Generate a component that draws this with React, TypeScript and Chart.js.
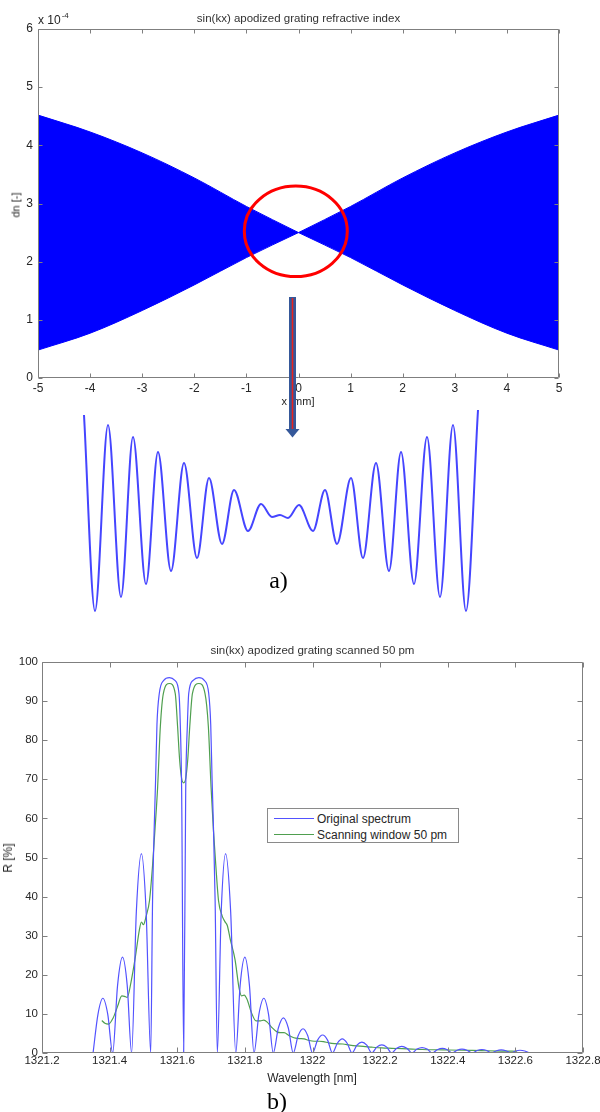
import React, { useEffect, useRef } from 'react';
import { Chart, registerables } from 'chart.js';

Chart.register(...registerables);

const FONT = '"Liberation Sans", Arial, Helvetica, sans-serif';
const SERIF = '"Liberation Serif", "Times New Roman", serif';
const TEXT = '#262626';
const AXIS = '#7f7f7f';

// ---------------- (a) top panel: refractive index envelope ----------------
const topTitle = 'sin(kx) apodized grating refractive index';
const topXLabel = 'x [mm]';
const topYLabel = 'dn [-]';
const topX = [-5, -4, -3, -2, -1, 0, 1, 2, 3, 4, 5];
const topUpper = [4.52, 4.23, 3.87, 3.44, 2.95, 2.5, 2.95, 3.44, 3.87, 4.23, 4.52];
const topLower = [0.48, 0.77, 1.16, 1.6, 2.07, 2.5, 2.07, 1.6, 1.16, 0.77, 0.48];
const topXTicks = [-5, -4, -3, -2, -1, 0, 1, 2, 3, 4, 5];
const topXTickLabels = ['-5', '-4', '-3', '-2', '-1', '0', '1', '2', '3', '4', '5'];
const topYTicks = [0, 1, 2, 3, 4, 5, 6];
const topYTickLabels = ['0', '1', '2', '3', '4', '5', '6'];

// zoomed detail of the centre (relative position / relative dn)
const zoomX = [-197, -186, -173, -160, -148, -135, -123, -110, -97, -84, -72, -59, -47, -33, -20, -9, -1, 7, 18, 32, 44, 56, 70, 82, 95, 108, 120, 133, 146, 159, 172, 185, 197];
const zoomDn = [101, -95, 91, -81, 79, -68, 64, -55, 53, -42, 38, -28, 26, -15, 12, -1, 1, -2, 11, -15, 26, -28, 38, -42, 53, -55, 64, -68, 79, -81, 91, -95, 106];

// ---------------- (b) bottom panel: spectrum ----------------
const botTitle = 'sin(kx) apodized grating scanned 50 pm';
const botXLabel = 'Wavelength [nm]';
const botYLabel = 'R [%]';
const seriesNames = ['Original spectrum', 'Scanning window 50 pm'];
const seriesColors = ['#5252ff', '#4f9f4f'];

const origWl = [
  1321.351, 1321.3655, 1321.380, 1321.3945, 1321.409, 1321.4235, 1321.438, 1321.452, 1321.465,
  1321.479, 1321.494, 1321.508, 1321.5215, 1321.527, 1321.532, 1321.536, 1321.540, 1321.547,
  1321.560, 1321.577, 1321.593, 1321.605, 1321.609, 1321.613, 1321.619, 1321.625, 1321.630,
  1321.634, 1321.647, 1321.664, 1321.680, 1321.693, 1321.699, 1321.703, 1321.707, 1321.712,
  1321.7185, 1321.730, 1321.743, 1321.758, 1321.773, 1321.786, 1321.800, 1321.8135, 1321.827,
  1321.8415, 1321.856, 1321.870, 1321.884, 1321.899, 1321.914, 1321.9285, 1321.943, 1321.9575,
  1321.972, 1321.986, 1322.000, 1322.015, 1322.030, 1322.0445, 1322.059, 1322.0735, 1322.088,
  1322.1025, 1322.117, 1322.1315, 1322.146, 1322.1605, 1322.175, 1322.190, 1322.205, 1322.2195,
  1322.234, 1322.249, 1322.264, 1322.279, 1322.294, 1322.309, 1322.324, 1322.339, 1322.354,
  1322.369, 1322.384, 1322.3985, 1322.413, 1322.4275, 1322.442, 1322.457, 1322.472, 1322.4865,
  1322.501, 1322.5155, 1322.530, 1322.544, 1322.558, 1322.5725, 1322.587, 1322.6005, 1322.614,
  1322.628, 1322.642,
];
const origR = [
  0, 9.9, 14.0, 9.9, 0, 17.3, 24.5, 17.3, 0,
  36.1, 51.0, 36.1, 0, 39, 58, 70, 84, 92,
  95.3, 96, 95.3, 92, 84, 67, 0, 67, 84,
  92, 95.3, 96, 95.3, 92, 84, 70, 58, 39,
  0, 36.1, 51.0, 36.1, 0, 17.3, 24.5, 17.3, 0,
  9.9, 14.0, 9.9, 0, 6.4, 9.0, 6.4, 0, 4.4,
  6.2, 4.4, 0, 3.3, 4.6, 3.3, 0, 2.5, 3.6,
  2.5, 0, 2.0, 2.8, 2.0, 0, 1.5, 2.1, 1.5,
  0, 1.2, 1.7, 1.2, 0, 1.0, 1.4, 1.0, 0,
  0.85, 1.2, 0.85, 0, 0.7, 1.0, 0.7, 0, 0.64,
  0.9, 0.64, 0, 0.57, 0.8, 0.57, 0, 0.5, 0.7,
  0.5, 0,
];

const scanWl = [
  1321.377, 1321.386, 1321.397, 1321.410, 1321.423, 1321.436, 1321.444, 1321.452, 1321.463,
  1321.476, 1321.488, 1321.494, 1321.500, 1321.508, 1321.518, 1321.527, 1321.534, 1321.542,
  1321.550, 1321.559, 1321.577, 1321.594, 1321.601, 1321.607, 1321.613, 1321.619, 1321.625,
  1321.631, 1321.637, 1321.645, 1321.664, 1321.682, 1321.692, 1321.700, 1321.707, 1321.714,
  1321.722, 1321.733, 1321.741, 1321.748, 1321.757, 1321.771, 1321.783, 1321.790, 1321.798,
  1321.806, 1321.820, 1321.833, 1321.846, 1321.856, 1321.866, 1321.880, 1321.895, 1321.906,
  1321.916, 1321.930, 1321.945, 1321.960, 1321.975, 1321.990, 1322.005, 1322.020, 1322.032,
  1322.048, 1322.065, 1322.090, 1322.110, 1322.130, 1322.150, 1322.175, 1322.205, 1322.235,
  1322.265, 1322.295, 1322.325, 1322.385, 1322.445, 1322.500, 1322.560, 1322.605,
];
const scanR = [
  8.3, 7.6, 7.4, 8.9, 11.8, 14.6, 14.5, 14.2, 18.0,
  24.5, 31.5, 33.5, 32.8, 35.0, 39.0, 48, 57, 68,
  83.5, 92, 94.5, 92, 83.5, 75, 70.2, 69.1, 70.2,
  75, 83.5, 92, 94.5, 92, 83.5, 68, 57, 48,
  39, 35.0, 33.6, 32.6, 29, 23.8, 16.5, 14.6, 14.8,
  13.8, 10.2, 8.2, 8.2, 8.4, 7.9, 6.5, 5.4, 5.2,
  5.2, 4.5, 3.9, 3.7, 3.6, 3.2, 3.0, 3.0, 2.9,
  2.6, 2.4, 2.3, 2.0, 1.8, 1.7, 1.5, 1.3, 1.2,
  1.1, 1.0, 0.9, 0.8, 0.7, 0.6, 0.5, 0.45,
];

const botXTicks = [1321.2, 1321.4, 1321.6, 1321.8, 1322, 1322.2, 1322.4, 1322.6, 1322.8];
const botXTickLabels = ['1321.2', '1321.4', '1321.6', '1321.8', '1322', '1322.2', '1322.4', '1322.6', '1322.8'];
const botYTicks = [0, 10, 20, 30, 40, 50, 60, 70, 80, 90, 100];
const botYTickLabels = ['0', '10', '20', '30', '40', '50', '60', '70', '80', '90', '100'];

// Matlab-like box with inward ticks on all sides
const boxPlugin = {
  id: 'matlabBox',
  afterDatasetsDraw(chart: any, _args: any, opts: any) {
    const { ctx, chartArea: a, scales } = chart;
    const L = opts.tickLen ?? 4;
    ctx.save();
    ctx.strokeStyle = AXIS;
    ctx.lineWidth = 1;
    ctx.beginPath();
    const l = Math.round(a.left) + 0.5;
    const r = Math.round(a.right) - 0.5;
    const t = Math.round(a.top) + 0.5;
    const b = Math.round(a.bottom) - 0.5;
    ctx.rect(l, t, r - l, b - t);
    for (const tk of scales.x.ticks) {
      const p = Math.round(scales.x.getPixelForValue(tk.value)) + 0.5;
      ctx.moveTo(p, b); ctx.lineTo(p, b - L);
      ctx.moveTo(p, t); ctx.lineTo(p, t + L);
    }
    for (const tk of scales.y.ticks) {
      const p = Math.round(scales.y.getPixelForValue(tk.value)) + 0.5;
      ctx.moveTo(l, p); ctx.lineTo(l + L, p);
      ctx.moveTo(r, p); ctx.lineTo(r - L, p);
    }
    ctx.stroke();
    ctx.restore();
  },
};

function pts(xs: number[], ys: number[]) {
  return xs.map((x, i) => ({ x, y: ys[i] }));
}

function useChart(ref: any, make: () => any) {
  useEffect(() => {
    const chart = new Chart(ref.current, make());
    return () => chart.destroy();
  }, []);
}

const bandStyle = { borderColor: '#0000ff', backgroundColor: '#0000ff', borderWidth: 1, pointRadius: 0, cubicInterpolationMode: 'monotone' };

function TopChart() {
  const ref = useRef<HTMLCanvasElement>(null);
  const half = topX.indexOf(0);
  useChart(ref, () => ({
    type: 'line',
    data: {
      datasets: [
        { label: 'upper-left', data: pts(topX.slice(0, half + 1), topUpper.slice(0, half + 1)), fill: '+1', ...bandStyle },
        { label: 'lower-left', data: pts(topX.slice(0, half + 1), topLower.slice(0, half + 1)), fill: false, ...bandStyle },
        { label: 'upper-right', data: pts(topX.slice(half), topUpper.slice(half)), fill: '+1', ...bandStyle },
        { label: 'lower-right', data: pts(topX.slice(half), topLower.slice(half)), fill: false, ...bandStyle },
      ],
    },
    options: {
      responsive: false,
      animation: false,
      events: [],
      layout: { padding: { top: 29, right: 41, left: 0, bottom: 0 } },
      plugins: { legend: { display: false }, tooltip: { enabled: false }, title: { display: false }, matlabBox: { tickLen: 4 } },
      scales: {
        x: {
          type: 'linear', min: -5, max: 5,
          grid: { display: false, drawTicks: false }, border: { display: false },
          afterBuildTicks: (s: any) => { s.ticks = topXTicks.map((v) => ({ value: v })); },
          afterFit: (s: any) => { s.height = 32; s.paddingLeft = 0; s.paddingRight = 0; },
          ticks: { autoSkip: false, maxRotation: 0, padding: 3, color: TEXT, font: { family: FONT, size: 12 }, callback: (_v: any, i: number) => topXTickLabels[i] },
        },
        y: {
          type: 'linear', min: 0, max: 6,
          grid: { display: false, drawTicks: false }, border: { display: false },
          afterBuildTicks: (s: any) => { s.ticks = topYTicks.map((v) => ({ value: v })); },
          afterFit: (s: any) => { s.width = 38; s.paddingTop = 0; s.paddingBottom = 0; },
          ticks: { autoSkip: false, padding: 5, color: TEXT, font: { family: FONT, size: 12 }, callback: (_v: any, i: number) => topYTickLabels[i] },
        },
      },
    },
    plugins: [boxPlugin],
  }));
  return <canvas ref={ref} width={600} height={410} style={{ position: 'absolute', left: 0, top: 0, width: 600, height: 410 }} />;
}

function ZoomWave() {
  const ref = useRef<HTMLCanvasElement>(null);
  useChart(ref, () => ({
    type: 'line',
    data: {
      datasets: [
        { label: 'zoom', data: pts(zoomX, zoomDn), borderColor: '#4545ff', borderWidth: 2, pointRadius: 0, fill: false, cubicInterpolationMode: 'monotone', clip: false },
      ],
    },
    options: {
      responsive: false,
      animation: false,
      events: [],
      layout: { padding: 0 },
      plugins: { legend: { display: false }, tooltip: { enabled: false } },
      scales: {
        x: { type: 'linear', display: false, min: -203, max: 203 },
        y: { type: 'linear', display: false, min: -101, max: 112 },
      },
    },
  }));
  return <canvas ref={ref} width={406} height={213} style={{ position: 'absolute', left: 78, top: 404, width: 406, height: 213 }} />;
}

function BottomChart() {
  const ref = useRef<HTMLCanvasElement>(null);
  useChart(ref, () => ({
    type: 'line',
    data: {
      datasets: [
        { label: seriesNames[0], data: pts(origWl, origR), borderColor: seriesColors[0], borderWidth: 1.2, pointRadius: 0, fill: false, cubicInterpolationMode: 'monotone' },
        { label: seriesNames[1], data: pts(scanWl, scanR), borderColor: seriesColors[1], borderWidth: 1.2, pointRadius: 0, fill: false, cubicInterpolationMode: 'monotone' },
      ],
    },
    options: {
      responsive: false,
      animation: false,
      events: [],
      layout: { padding: { top: 22, right: 17, left: 0, bottom: 0 } },
      plugins: { legend: { display: false }, tooltip: { enabled: false }, title: { display: false }, matlabBox: { tickLen: 5 } },
      scales: {
        x: {
          type: 'linear', min: 1321.2, max: 1322.8,
          grid: { display: false, drawTicks: false }, border: { display: false },
          afterBuildTicks: (s: any) => { s.ticks = botXTicks.map((v) => ({ value: v })); },
          afterFit: (s: any) => { s.height = 27; s.paddingLeft = 0; s.paddingRight = 0; },
          ticks: { autoSkip: false, maxRotation: 0, padding: 1, color: TEXT, font: { family: FONT, size: 11.5 }, callback: (_v: any, i: number) => botXTickLabels[i] },
        },
        y: {
          type: 'linear', min: 0, max: 100,
          grid: { display: false, drawTicks: false }, border: { display: false },
          afterBuildTicks: (s: any) => { s.ticks = botYTicks.map((v) => ({ value: v })); },
          afterFit: (s: any) => { s.width = 42; s.paddingTop = 0; s.paddingBottom = 0; },
          ticks: { autoSkip: false, padding: 4, color: TEXT, font: { family: FONT, size: 11.5 }, callback: (_v: any, i: number) => botYTickLabels[i] },
        },
      },
    },
    plugins: [boxPlugin],
  }));
  return <canvas ref={ref} width={600} height={440} style={{ position: 'absolute', left: 0, top: 640, width: 600, height: 440 }} />;
}

function Txt(props: any) {
  const { x, y, size = 12, rotate = 0, color = TEXT, family = FONT, children } = props;
  return (
    <div
      style={{
        position: 'absolute', left: x, top: y,
        transform: `translate(-50%, -50%)${rotate ? ` rotate(${rotate}deg)` : ''}`,
        fontSize: size, lineHeight: 1, whiteSpace: 'nowrap', color, fontFamily: family,
      }}
    >
      {children}
    </div>
  );
}

function Legend() {
  return (
    <div style={{ position: 'absolute', left: 267, top: 808, width: 192, height: 35, boxSizing: 'border-box', border: '1px solid #8a8a8a', background: '#fff' }}>
      {seriesNames.map((name, i) => (
        <div key={name} style={{ position: 'absolute', left: 0, top: i === 0 ? 2 : 18, height: 16, width: 190 }}>
          <div style={{ position: 'absolute', left: 6, top: 7, width: 40, height: 1.3, background: seriesColors[i] }} />
          <div style={{ position: 'absolute', left: 49, top: 1, fontFamily: FONT, fontSize: 12, lineHeight: '14px', color: TEXT, whiteSpace: 'nowrap' }}>{name}</div>
        </div>
      ))}
    </div>
  );
}

export default function App() {
  return (
    <div style={{ position: 'absolute', left: 0, top: 0, width: 600, height: 1112, overflow: 'hidden', background: '#fff' }}>
      <TopChart />
      <ZoomWave />
      <BottomChart />

      <Txt x={298.5} y={18.5} size={11.5} color="#333">{topTitle}</Txt>
      <div style={{ position: 'absolute', left: 38, top: 14, fontFamily: FONT, fontSize: 12, lineHeight: 1, color: TEXT, whiteSpace: 'nowrap' }}>
        x 10<span style={{ fontSize: 8, position: 'relative', top: -6, marginLeft: 1 }}>-4</span>
      </div>
      <Txt x={16} y={205} size={11} rotate={-90}>{topYLabel}</Txt>
      <Txt x={298} y={401} size={11}>{topXLabel}</Txt>

      <Txt x={278.5} y={580} size={24} family={SERIF} color="#000">a)</Txt>

      <Txt x={312.5} y={651} size={11.5} color="#333">{botTitle}</Txt>
      <Txt x={312} y={1078} size={12}>{botXLabel}</Txt>
      <Txt x={8} y={858} size={12} rotate={-90}>{botYLabel}</Txt>
      <Legend />

      <div style={{ position: 'absolute', left: 267, top: 1089, fontFamily: SERIF, fontSize: 24, lineHeight: 1, color: '#000' }}>b)</div>

      <svg width={600} height={1112} style={{ position: 'absolute', left: 0, top: 0, pointerEvents: 'none' }}>
        <ellipse cx={295.8} cy={231.3} rx={51.5} ry={45.3} fill="none" stroke="#ff0000" strokeWidth={3} />
        <rect x={289} y={297} width={7} height={133} fill="#35589a" />
        <line x1={292.5} y1={298} x2={292.5} y2={430} stroke="#e8231f" strokeWidth={1.6} />
        <polygon points="285.5,429 299.5,429 292.5,437.5" fill="#35589a" />
      </svg>
    </div>
  );
}
